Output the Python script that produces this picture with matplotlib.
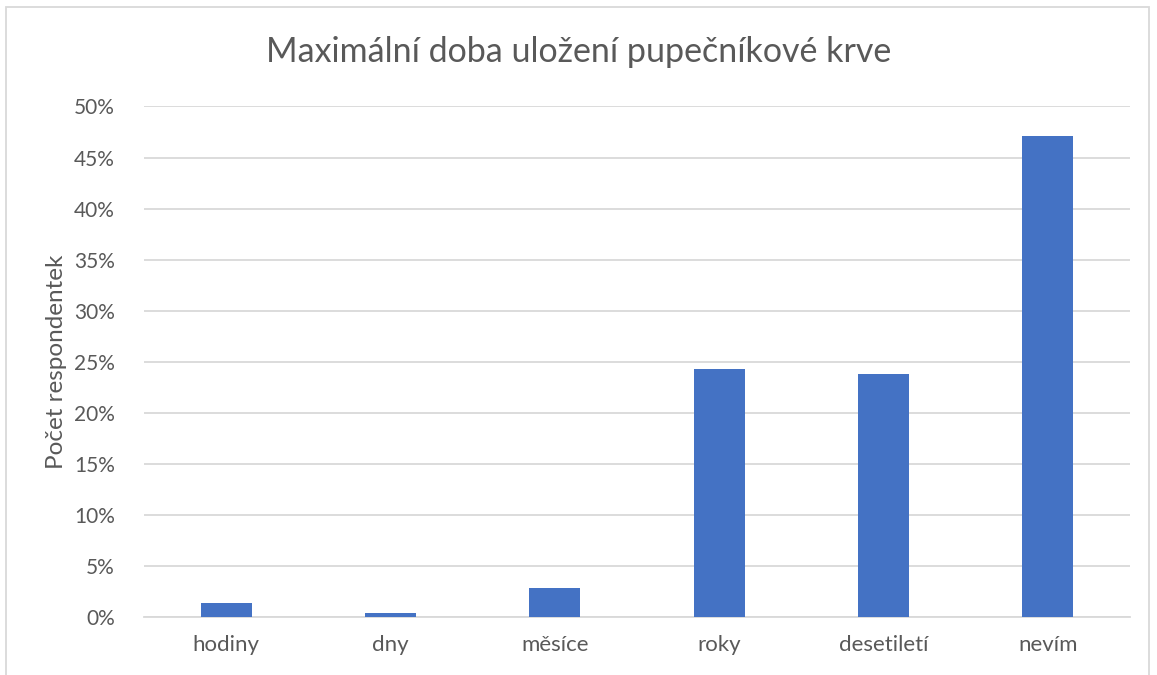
import numpy as np
import matplotlib.pyplot as plt
from matplotlib.patches import Rectangle
from matplotlib.ticker import PercentFormatter

categories = ["hodiny", "dny", "měsíce", "roky", "desetiletí", "nevím"]
shares = [0.0137, 0.0045, 0.0284, 0.2427, 0.2378, 0.4710]
yticks = np.arange(0, 0.51, 0.05)

plt.rcParams["font.family"] = ["Lato", "DejaVu Sans"]
text_color = "#595959"

fig = plt.figure(figsize=(11.57, 6.75), dpi=100)
ax = fig.add_axes([144 / 1157, 1 - 617.3 / 675, 986 / 1157, 510.8 / 675])

x = np.arange(len(categories))
ax.bar(x, shares, width=0.31, color="#4472C4", zorder=3)

ax.set_xlim(-0.5, len(categories) - 0.5)
ax.set_ylim(0, 0.5)
ax.set_yticks(yticks)
ax.yaxis.set_major_formatter(PercentFormatter(1.0, decimals=0))
ax.set_xticks(x)
ax.set_xticklabels(categories)
ax.grid(axis="y", color="#d9d9d9", linewidth=1.3, zorder=0)
for side in ["top", "right", "left"]:
    ax.spines[side].set_visible(False)
ax.spines["bottom"].set_color("#d9d9d9")
ax.spines["bottom"].set_linewidth(1.3)
ax.tick_params(axis="both", length=0, colors=text_color)
ax.tick_params(axis="x", pad=13, labelsize=16)
ax.tick_params(axis="y", pad=21, labelsize=15)

ax.set_ylabel("Počet respondentek", fontsize=17.5, color=text_color, labelpad=5)
fig.text(0.5, 1 - 52 / 675, "Maximální doba uložení pupečníkové krve",
         ha="center", va="center", fontsize=24.5, color=text_color)

# chart border
fig.add_artist(Rectangle((6 / 1157, -0.01), 1143 / 1157, 1 - 7 / 675 + 0.01,
                         transform=fig.transFigure, fill=False,
                         edgecolor="#d9d9d9", linewidth=1.3))

fig.savefig("out.png", dpi=100)
